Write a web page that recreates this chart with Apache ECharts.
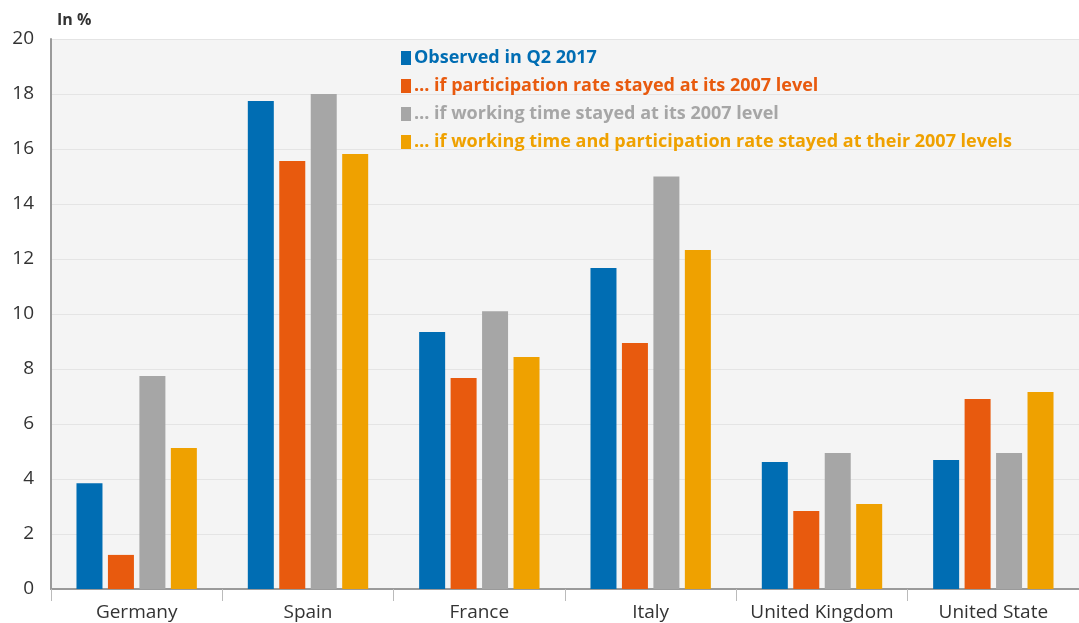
<!DOCTYPE html>
<html>
<head>
<meta charset="utf-8">
<script src="https://cdn.jsdelivr.net/npm/echarts@6/dist/echarts.min.js"></script>
<style>html,body{margin:0;padding:0;background:#fff;}#c{width:1079px;height:623px;}</style>
</head>
<body>
<div id="c"></div>
<script>
var categories = ['Germany', 'Spain', 'France', 'Italy', 'United Kingdom', 'United State'];
var seriesNames = [
  'Observed in Q2 2017',
  '\u2026 if participation rate stayed at its 2007 level',
  '\u2026 if working time stayed at its 2007 level',
  '\u2026 if working time and participation rate stayed at their 2007 levels'
];
var observed = [3.85, 17.75, 9.35, 11.67, 4.62, 4.69];
var participation = [1.24, 15.56, 7.67, 8.95, 2.84, 6.91];
var workingTime = [7.75, 18.0, 10.1, 15.0, 4.95, 4.95];
var both = [5.13, 15.82, 8.44, 12.33, 3.09, 7.16];
var yTicks = [0, 20, 2];
var colors = ['#006db3', '#e85a0e', '#a6a6a6', '#efa100'];
var values = [observed, participation, workingTime, both];

var font = '"Open Sans", "Noto Sans", sans-serif';
var chart = echarts.init(document.getElementById('c'));
chart.setOption({
  animation: false,
  textStyle: { fontFamily: font },
  grid: { left: 51, top: 39, width: 1031, height: 550, show: true, backgroundColor: '#f4f4f4', borderWidth: 0, containLabel: false },
  graphic: [{ type: 'text', left: 57, top: 12, style: { text: 'In %', font: 'bold 16px ' + font, fill: '#333' } }],
  legend: {
    orient: 'vertical', left: 396, top: 44, itemWidth: 10, itemHeight: 14, itemGap: 10, icon: 'rect',
    selectedMode: false,
    data: seriesNames.map(function (n, i) { return { name: n, textStyle: { color: colors[i] } }; }),
    textStyle: { fontSize: 18, fontWeight: 'bold', fontFamily: font, padding: [0, 0, 0, -2] }
  },
  xAxis: {
    type: 'category', data: categories,
    axisLine: { lineStyle: { color: '#9a9a9a', width: 2 } },
    axisTick: { show: true, interval: 0, length: 12, lineStyle: { color: '#bbb' } },
    axisLabel: { interval: 0, fontSize: 19, color: '#333', margin: 14, fontFamily: font }
  },
  yAxis: {
    type: 'value', min: yTicks[0], max: yTicks[1], interval: yTicks[2],
    axisLine: { show: true, lineStyle: { color: '#9a9a9a', width: 2 } },
    axisTick: { show: false },
    axisLabel: { fontSize: 19, color: '#333', margin: 17, fontFamily: font },
    splitLine: { lineStyle: { color: '#e4e4e4', width: 1 } }
  },
  series: seriesNames.map(function (n, i) {
    return { name: n, type: 'bar', data: values[i], barWidth: 26, barGap: '21%', itemStyle: { color: colors[i] } };
  })
});
</script>
</body>
</html>
